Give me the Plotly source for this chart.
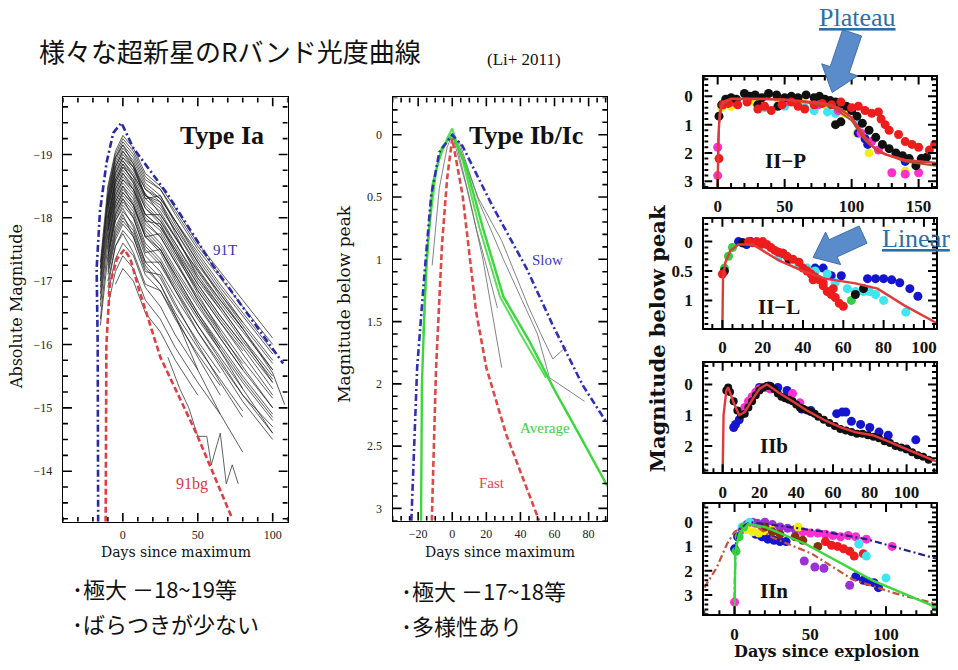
import math
import plotly.graph_objects as go

W, H = 958, 670

# ---------------- DATA ----------------
DAYS_IA = [-15, -10, -5, 0, 7, 15, 25, 35, 50, 65, 80, 100]
IA_CURVES = [
    [-17.3, -18.5, -19.05, -19.3, -19.1, -18.7, -18.5, -18.15, -17.6, -17.15, -16.7, -16.1],
    [-17.2, -18.4, -18.95, -19.2, -19.0, -18.6, -18.45, -18.05, -17.5, -17.05, -16.6, -16.0],
    [None, -18.3, -18.85, -19.1, -18.9, -18.5, -18.3, -17.95, -17.4, -16.9, -16.45, -15.85],
    [-17.0, -18.25, -18.8, -19.05, -18.85, -18.45, -18.25, -17.85, -17.3, -16.8, -16.35, None],
    [None, -18.2, -18.75, -19.0, -18.8, -18.35, -18.2, -17.8, -17.25, -16.8, -16.3, -15.7],
    [-17.0, -18.15, -18.7, -18.95, -18.75, -18.35, -18.15, -17.8, -17.2, -16.7, -16.25, None],
    [None, -18.1, -18.65, -18.9, -18.7, -18.3, -18.1, -17.7, -17.15, -16.65, -16.2, -15.6],
    [-16.9, -18.05, -18.6, -18.85, -18.65, -18.25, -18.0, -17.6, -17.05, -16.55, -16.05, -15.45],
    [None, -18.0, -18.55, -18.8, -18.6, -18.2, -17.95, -17.6, -17.0, -16.55, None, None],
    [-16.8, -17.95, -18.5, -18.75, -18.55, -18.15, -17.95, -17.55, -16.95, -16.45, -16.0, -15.4],
    [None, -17.9, -18.45, -18.7, -18.5, -18.05, -17.85, -17.45, -16.9, -16.4, -15.95, -15.3],
    [-16.7, -17.85, -18.4, -18.65, -18.45, -18.0, -17.8, -17.4, -16.85, -16.35, -15.9, None],
    [None, -17.8, -18.35, -18.6, -18.4, -17.95, -17.7, -17.3, -16.75, -16.25, -15.75, -15.15],
    [-16.6, -17.75, -18.3, -18.55, -18.35, -17.9, -17.7, -17.3, -16.7, -16.2, None, None],
    [None, -17.7, -18.25, -18.5, -18.3, -17.85, -17.6, -17.2, -16.65, -16.1, -15.6, -15.0],
    [None, -17.65, -18.2, -18.45, -18.25, -17.8, -17.55, -17.15, -16.6, -16.1, -15.6, None],
    [-16.4, -17.6, -18.15, -18.4, -18.2, -17.7, -17.5, -17.1, -16.5, -16.0, -15.5, -14.9],
    [None, -17.55, -18.1, -18.35, -18.15, -17.7, -17.45, -17.0, -16.45, -15.95, None, None],
    [None, -17.5, -18.05, -18.3, -18.1, -17.6, -17.35, -16.95, -16.4, -15.9, -15.4, -14.8],
    [-16.3, -17.4, -17.95, -18.2, -18.0, -17.5, -17.25, -16.85, -16.3, -15.8, -15.3, None],
    [None, -17.3, -17.85, -18.1, -17.9, -17.4, -17.15, -16.75, -16.2, -15.7, -15.2, -14.6],
    [None, -17.2, -17.75, -18.0, -17.8, -17.3, -17.05, -16.6, -16.05, -15.55, None, None],
    [None, -17.1, -17.65, -17.9, -17.7, -17.2, -16.95, -16.5, -15.95, -15.45, -14.95, None],
    [None, -17.0, -17.55, -17.8, -17.6, -17.1, -16.85, -16.4, -15.85, -15.35, None, None],
    [None, -16.8, -17.35, -17.6, -17.4, -16.9, -16.6, -16.15, -15.6, None, None, None],
    [None, -16.6, -17.15, -17.4, -17.2, -16.7, -16.4, -15.95, -15.4, -14.9, None, None],
    [None, None, -16.95, -17.2, -17.0, -16.5, -16.2, -15.75, -15.2, None, None, None],
    [-17.1, -18.35, -18.9, -19.15, -18.95, -18.55, -18.35, -17.9, -17.3, -16.75, -16.25, -15.6],
    [None, -18.15, -18.7, -18.95, -18.8, -18.45, -18.3, -17.95, -17.45, -16.95, -16.5, -15.9],
    [None, -18.0, -18.55, -18.8, -18.6, -18.15, -17.9, -17.45, -16.8, -16.2, -15.65, -15.0],
    [None, -17.8, -18.35, -18.6, -18.45, -18.05, -17.85, -17.5, -16.95, -16.45, -16.0, None],
    [None, None, -18.15, -18.4, -18.2, -17.75, -17.5, -17.05, -16.45, -15.9, -15.3, -14.6],
    [None, -18.45, -19.0, -19.25, -19.05, -18.65, -18.45, -18.1, -17.55, -17.1, None, None],
    [None, -17.15, -17.7, -17.95, -17.75, -17.25, -16.95, -16.45, -15.6, -14.9, -14.3, None],
    [None, -17.45, -18.0, -18.25, -18.05, -17.55, -17.3, -16.85, -16.2, -15.65, -15.1, -14.5],
    [-17.2, -18.3, -18.95, -19.15, -18.85, -18.35, -18.25, -17.75, -17.05, -16.6, -16.1, -15.4],
    [None, -18.2, -18.8, -19.05, -18.8, -18.3, -18.35, -17.95, -17.35, -16.85, -16.35, -15.75],
    [None, -17.95, -18.6, -18.85, -18.55, -18.05, -18.05, -17.7, -17.1, -16.6, -16.1, -15.5],
    [None, -17.85, -18.45, -18.7, -18.45, -17.95, -17.9, -17.5, -16.85, -16.35, -15.85, -15.2],
    [None, -17.6, -18.25, -18.5, -18.2, -17.7, -17.75, -17.35, -16.7, -16.15, -15.7, None],
    [None, -17.4, -18.05, -18.3, -18.0, -17.45, -17.5, -17.1, -16.5, -15.95, -15.45, -14.85],
    [None, -17.35, -17.95, -18.15, -17.85, -17.3, -17.3, -16.9, -16.3, -15.75, -15.2, -14.7],
    [None, -17.25, -17.8, -18.05, -17.7, -17.15, -17.1, -16.65, -16.0, -15.4, -14.85, None],
    [None, -16.9, -17.55, -17.75, -17.45, -16.95, -16.85, -16.45, -15.8, -15.2, None, None],
]
IA_LONG_X = [0, 10, 25, 40, 60, 80, 100, 108]
IA_LONG_Y = [-18.9, -18.55, -18.05, -17.5, -16.85, -16.25, -15.55, -15.05]
IA_NOISY_X = [30, 38, 44, 50, 56, 59, 65, 69, 73, 77]
IA_NOISY_Y = [-15.8, -15.3, -15.0, -14.55, -14.55, -14.1, -14.6, -13.8, -14.1, -13.8]
IA_91T_X = [-16.5, -16.8, -17.5, -15.3, -10.9, -6.4, -1, 7, 29, 60, 107]
IA_91T_Y = [-13.2, -16.0, -17.2, -18.1, -18.87, -19.34, -19.5, -19.1, -18.4, -17.25, -15.7]
IA_91BG_X = [-11.5, -11.0, -8.7, -4, 1, 5, 11, 25, 49, 73]
IA_91BG_Y = [-13.2, -16.0, -16.95, -17.35, -17.5, -17.35, -16.85, -15.8, -14.6, -13.25]

IB_SLOW_X = [-24, -20.6, -16.5, -12.4, -7.6, 0, 6, 23.5, 43.5, 59, 76.5, 91]
IB_SLOW_Y = [3.1, 1.87, 1.15, 0.49, 0.14, 0.0, 0.09, 0.57, 1.07, 1.53, 2.01, 2.32]
IB_AVG1_X = [-18.3, -17.8, -15.5, -11.5, -6, 0, 8, 18, 30, 45, 60, 75, 91]
IB_AVG1_Y = [3.1, 2.0, 1.1, 0.4, 0.1, 0.0, 0.25, 0.75, 1.3, 1.65, 2.05, 2.42, 2.82]
IB_AVG2_X = [-17.0, -14, -9, -3, 0, 6, 16, 28, 40, 55]
IB_AVG2_Y = [1.6, 0.8, 0.25, 0.03, -0.05, 0.2, 0.75, 1.3, 1.6, 1.95]
IB_FAST_X = [-12, -9.5, -6, -3, 0, 6, 14, 20, 31.5, 51]
IB_FAST_Y = [3.1, 1.87, 0.88, 0.35, 0.03, 0.48, 1.42, 1.87, 2.4, 3.1]
IB_GRAY = [
    ([0, 8, 14, 20, 26.5], [0.0, 0.4, 0.75, 1.05, 1.39]),
    ([2, 10, 18, 29], [0.05, 0.5, 1.0, 1.87]),
    ([3, 15, 29, 37, 45, 52, 59, 67], [0.05, 0.5, 0.85, 1.12, 1.39, 1.6, 1.8, 1.7]),
    ([4, 16, 30, 40, 50, 57, 77.6], [0.05, 0.55, 1.0, 1.3, 1.6, 1.95, 2.14]),
    ([-11.8, -7.6, -3, 0], [1.05, 0.43, 0.1, 0.0]),
]

IIP_LINE_X = [0, 0.5, 1.5, 4, 10, 30, 60, 80, 90, 100, 108, 115, 125, 140, 163]
IIP_LINE_Y = [3.2, 1.5, 0.6, 0.2, 0.08, 0.08, 0.15, 0.25, 0.4, 0.75, 1.3, 1.75, 2.05, 2.25, 2.35]
IIP_LINE2_X = [0, 1, 3, 10, 50, 85, 100, 110, 120, 140, 163]
IIP_LINE2_Y = [3.2, 1.0, 0.3, 0.1, 0.1, 0.35, 0.85, 1.55, 1.95, 2.3, 2.45]
IIP_BLACK_X = [1, 3, 6, 10, 14, 20, 24, 28, 33, 38, 44, 50, 55, 60, 66, 72, 76, 80, 84, 88, 92,
               96, 100, 104, 108, 113, 118, 123, 128, 133, 138, 143, 148, 152, 156, 30, 45, 88, 92]
IIP_BLACK_Y = [0.7, 0.3, 0.1, 0.05, 0.1, -0.1, 0.0, -0.05, 0.05, -0.1, -0.05, 0.05, 0.0, 0.05, -0.05,
               0.05, 0.0, 0.1, 0.15, 0.2, 0.25, 0.35, 0.5, 0.7, 0.95, 1.2, 1.45, 1.7, 1.85, 2.0, 2.1,
               2.2, 2.45, 2.2, 2.15, 0.3, 0.35, 1.0, 0.9]
IIP_RED_X = [1, 4, 8, 15, 22, 30, 35, 40, 48, 55, 60, 65, 72, 78, 85, 92, 100, 105, 110, 115,
             120, 122, 125, 128, 135, 140, 145, 150, 158, 162]
IIP_RED_Y = [2.2, 0.3, 0.25, 0.3, 0.2, 0.45, 0.35, 0.5, 0.3, 0.2, 0.35, 0.45, 0.3, 0.25, 0.3, 0.2,
             0.4, 0.35, 0.5, 0.6, 0.55, 0.8, 1.0, 1.2, 1.35, 1.6, 1.7, 1.8, 1.9, 1.7]
IIP_YELLOW_X = [3, 10, 28, 45, 62, 80, 95, 104, 113, 140]
IIP_YELLOW_Y = [0.4, 0.35, 0.2, 0.1, 0.15, 0.3, 0.6, 1.3, 2.0, 2.65]
IIP_CYAN_X = [35, 50, 65, 72, 82, 88, 105]
IIP_CYAN_Y = [0.4, 0.35, 0.4, 0.5, 0.55, 0.6, 1.0]
IIP_MAGENTA_X = [0, 0, 12, 50, 75, 90, 107, 115, 120, 130, 140, 150]
IIP_MAGENTA_Y = [1.8, 2.8, 0.2, 0.2, 0.3, 0.5, 1.3, 1.6, 1.9, 2.7, 2.75, 2.7]
IIP_BLUE_X = [105, 110, 112, 140]
IIP_BLUE_Y = [1.3, 1.5, 1.7, 2.3]

IIL_LINE_X = [0, 0.3, 1.5, 4, 8, 15, 28, 40, 51, 66, 77, 90, 106]
IIL_LINE_Y = [1.47, 0.6, 0.35, 0.15, 0.05, 0.05, 0.32, 0.5, 0.63, 0.71, 0.8, 1.08, 1.38]
IIL_BLUE_X = [8, 10, 12, 14, 46, 50, 54, 59, 72, 76, 80, 84, 88, 93, 97]
IIL_BLUE_Y = [0.0, 0.02, 0.05, 0.0, 0.45, 0.45, 0.58, 0.58, 0.63, 0.63, 0.63, 0.65, 0.7, 0.8, 0.93]
IIL_RED_X = [0, 13, 15, 17, 19, 20, 22, 24, 26, 28, 30, 32, 35, 38, 40, 42, 44, 46, 48, 50, 52,
             54, 56, 58, 60, 45, 50, 55]
IIL_RED_Y = [0.55, 0.0, 0.02, 0.0, 0.05, 0.0, 0.05, 0.1, 0.15, 0.18, 0.2, 0.25, 0.3, 0.35, 0.45,
             0.5, 0.55, 0.6, 0.65, 0.75, 0.85, 0.9, 0.95, 1.05, 1.1, 0.65, 0.7, 0.8]
IIL_CYAN_X = [28, 33, 38, 42, 46, 52, 56, 62, 66, 70, 73, 76, 80, 91]
IIL_CYAN_Y = [0.25, 0.3, 0.4, 0.45, 0.5, 0.55, 0.7, 0.8, 0.85, 0.85, 0.85, 0.9, 1.0, 1.2]
IIL_GREEN_X = [1, 3, 5, 64]
IIL_GREEN_Y = [0.45, 0.25, 0.1, 1.0]
IIL_BLACK_X = [1, 10, 30, 33, 66, 70]
IIL_BLACK_Y = [0.5, 0.02, 0.2, 0.3, 0.9, 0.8]

IIB_LINE_X = [0, 0.5, 2, 3, 6, 9, 12, 16, 20, 24, 30, 38, 45.6, 55, 63.5, 72, 81.6, 90, 100, 116]
IIB_LINE_Y = [2.85, 1.0, 0.2, 0.1, 0.6, 1.0, 0.9, 0.5, 0.15, 0.0, 0.25, 0.55, 0.84, 1.15, 1.38,
              1.55, 1.65, 1.85, 2.1, 2.5]
IIB_BLACK_X = [2, 3, 4, 6, 8, 10, 12, 14, 16, 18, 20, 22, 24, 26, 28, 30, 32, 34, 36, 38, 40, 42,
               44, 46, 48, 50, 52, 55, 58, 61, 64, 67, 70, 73, 76, 79, 82, 85, 88, 91, 94, 97,
               100, 103, 106, 109, 112]
IIB_BLACK_Y = [0.2, 0.1, 0.25, 0.55, 0.85, 1.0, 0.95, 0.75, 0.55, 0.35, 0.2, 0.1, 0.05, 0.05, 0.15,
               0.3, 0.4, 0.45, 0.5, 0.55, 0.65, 0.75, 0.8, 0.85, 0.9, 0.95, 1.05, 1.15, 1.25, 1.35,
               1.45, 1.5, 1.55, 1.6, 1.6, 1.65, 1.7, 1.75, 1.85, 1.9, 2.0, 2.05, 2.1, 2.2, 2.3,
               2.35, 2.45]
IIB_BLUE_X = [6, 7, 9, 20, 25, 30, 35, 43, 48, 62, 65, 67, 70, 75, 80, 85, 90, 100, 105]
IIB_BLUE_Y = [1.4, 1.3, 1.15, 0.1, 0.05, 0.1, 0.2, 0.8, 0.85, 0.95, 0.9, 0.9, 1.2, 1.3, 1.4, 1.55,
              1.65, 2.1, 1.8]
IIB_MAGENTA_X = [10, 12, 14, 16, 18, 20, 22, 24, 26, 38, 42]
IIB_MAGENTA_Y = [0.9, 0.75, 0.55, 0.4, 0.25, 0.15, 0.1, 0.1, 0.15, 0.3, 0.6]

IIN_RED_X = [-20, -12, -5, 0, 8, 15, 24.5, 51, 77.5, 104, 133]
IIN_RED_Y = [2.7, 1.9, 0.9, 0.4, 0.1, 0.2, 0.62, 1.3, 2.35, 2.9, 3.37]
IIN_BLUE_X = [0, 0.5, 3, 10, 30, 60, 87, 133]
IIN_BLUE_Y = [3.8, 1.0, 0.3, 0.0, 0.15, 0.4, 0.7, 1.5]
IIN_GREEN_X = [0, 0.5, 3, 9, 20, 47, 91, 133]
IIN_GREEN_Y = [3.8, 1.2, 0.5, 0.08, 0.2, 0.9, 2.4, 3.5]
IIN_PTS = {
    "#ff2fd0": ([0, 45, 50, 55, 60, 65, 70, 75, 80, 87, 104],
                [3.3, 0.4, 0.45, 0.45, 0.5, 0.55, 0.6, 0.55, 0.6, 0.7, 1.0]),
    "#9a32d8": ([5, 8, 12, 15, 20, 25, 30, 35, 40, 46, 53, 59, 76],
                [0.3, 0.1, 0.0, 0.05, 0.0, 0.1, 0.2, 0.25, 0.3, 1.6, 1.85, 1.9, 2.6]),
    "#1515d0": ([0, 2, 14, 18, 22, 26, 30, 34, 80, 85, 88, 92, 95],
                [1.1, 0.6, 0.5, 0.6, 0.7, 0.75, 0.8, 0.8, 2.25, 2.4, 2.45, 2.5, 2.7]),
    "#ee1c1c": ([60, 64, 68, 72, 76, 79, 85], [0.8, 0.95, 1.0, 1.1, 1.2, 1.4, 1.3]),
    "#3ee6ee": ([5, 10, 82, 87, 100], [0.2, 0.0, 0.9, 1.4, 2.3]),
    "#f2ee10": ([8, 12, 16, 20, 24, 42], [0.3, 0.4, 0.45, 0.35, 0.3, 0.2]),
    "#8a3010": ([20, 25, 30, 40, 45, 55], [0.2, 0.4, 0.5, 0.6, 0.75, 1.0]),
    "#30d040": ([1, 3, 6, 133], [1.2, 0.6, 0.2, 3.5]),
}


# ---------------- HELPERS ----------------
def px(x):
    return x / W


def py(y):
    return 1 - y / H


fig = go.Figure()

PANELS = [
    dict(box=(63, 288, 98, 525), xr=[-40, 110], yr=[-13.2, -19.9], xd=50, xm=10, yd=1, ym=0.25, big=False),
    dict(box=(393, 608, 98, 524), xr=[-35, 91], yr=[3.1, -0.3], xd=20, xm=5, yd=0.5, ym=0.1, big=False),
    dict(box=(705, 937, 77, 188), xr=[-10, 163], yr=[3.2, -0.7], xd=50, xm=10, yd=1, ym=0.2, big=True),
    dict(box=(705, 937, 220, 330), xr=[-9, 106], yr=[1.47, -0.39], xd=20, xm=5, yd=0.5, ym=0.1, big=True),
    dict(box=(705, 937, 365, 475), xr=[-10, 116], yr=[2.85, -0.7], xd=20, xm=5, yd=1, ym=0.2, big=True),
    dict(box=(705, 937, 507, 618), xr=[-20, 133], yr=[3.8, -0.75], xd=50, xm=10, yd=1, ym=0.2, big=True),
]


def ax(i):
    return ("x" if i == 1 else "x%d" % i), ("y" if i == 1 else "y%d" % i)


def line(i, xs, ys, color, width=1.5, dash="solid", clip=True):
    xa, ya = ax(i)
    fig.add_trace(go.Scatter(x=xs, y=ys, mode="lines", xaxis=xa, yaxis=ya,
                             line=dict(color=color, width=width, dash=dash, simplify=False),
                             showlegend=False, hoverinfo="skip", cliponaxis=clip))


def dots(i, xs, ys, color, size=9):
    xa, ya = ax(i)
    fig.add_trace(go.Scatter(x=xs, y=ys, mode="markers", xaxis=xa, yaxis=ya,
                             marker=dict(color=color, size=size, line=dict(width=0)),
                             showlegend=False, hoverinfo="skip"))


def tick_values(lo, hi, step):
    a, b = min(lo, hi), max(lo, hi)
    k0, k1 = math.ceil(a / step - 1e-9), math.floor(b / step + 1e-9)
    return [round(k * step, 6) for k in range(k0, k1 + 1)]


def is_major(v, d):
    q = v / d
    return abs(q - round(q)) < 1e-6


layout_axes = {}
for i, p in enumerate(PANELS, start=1):
    l, r, t, b = p["box"]
    sfx = "" if i == 1 else str(i)
    if p["big"]:
        tf = dict(family="Liberation Serif", size=17, color="#111", weight="bold")
        lw, sx, sy = 2, 3, 6
    else:
        tf = dict(family="Liberation Serif", size=12, color="#222")
        lw, sx, sy = 1.4, 2, 7
    for letter, dom, rng, dt, anc, st in (("x", [px(l), px(r)], p["xr"], p["xd"], "y", sx),
                                          ("y", [py(b), py(t)], p["yr"], p["yd"], "x", sy)):
        layout_axes[letter + "axis" + sfx] = dict(
            domain=dom, range=rng, anchor=anc + sfx, showgrid=False, zeroline=False,
            showline=True, linecolor="black", linewidth=lw, mirror=True, ticks="",
            tickmode="linear", tick0=0, dtick=dt, tickfont=tf, ticklabelstandoff=st,
            layer="above traces")


def add_inward_ticks(i, p):
    """Tick marks on all four sides pointing into the frame, placed at axis values."""
    l, r, t, b = p["box"]
    x0r, x1r = p["xr"]
    y0r, y1r = p["yr"]
    kx = (x1r - x0r) / (r - l)
    ky = (y1r - y0r) / (b - t)
    tl, ml, tw = (8, 4, 2.0) if p["big"] else (9, 5, 1.6)
    xs, ys = [], []
    for v in tick_values(x0r, x1r, p["xm"]):
        L = tl if is_major(v, p["xd"]) else ml
        xs += [v, v, None, v, v, None]
        ys += [y0r, y0r + L * ky, None, y1r, y1r - L * ky, None]
    for v in tick_values(y0r, y1r, p["ym"]):
        L = tl if is_major(v, p["yd"]) else ml
        xs += [x0r, x0r + L * kx, None, x1r, x1r - L * kx, None]
        ys += [v, v, None, v, v, None]
    line(i, xs, ys, "#000000", width=tw, clip=False)


# ---- Panel 1: Type Ia ----
for c in IA_CURVES:
    line(1, DAYS_IA, c, "rgba(25,25,25,0.7)", width=1.0)
line(1, IA_LONG_X, IA_LONG_Y, "rgba(40,40,40,0.8)", width=1.0)
line(1, IA_NOISY_X, IA_NOISY_Y, "rgba(60,60,60,0.8)", width=1.0)
line(1, IA_91T_X, IA_91T_Y, "#2a2aa8", width=2.6, dash="7px,3px,2px,3px")
line(1, IA_91BG_X, IA_91BG_Y, "#e03c44", width=2.6, dash="6px,3px")

# ---- Panel 2: Type Ib/Ic ----
for gx, gy in IB_GRAY:
    line(2, gx, gy, "rgba(110,110,110,0.85)", width=1.0)
line(2, IB_AVG2_X, IB_AVG2_Y, "#55e055", width=2.0)
line(2, IB_AVG1_X, IB_AVG1_Y, "#3ad83a", width=2.4)
line(2, IB_SLOW_X, IB_SLOW_Y, "#3030b8", width=2.6, dash="7px,3px,2px,3px")
line(2, IB_FAST_X, IB_FAST_Y, "#e04848", width=2.6, dash="6px,3px")

# ---- Panel 3: II-P ----
dots(3, IIP_YELLOW_X, IIP_YELLOW_Y, "#f2ee10")
dots(3, IIP_CYAN_X, IIP_CYAN_Y, "#3ee6ee")
dots(3, IIP_BLUE_X, IIP_BLUE_Y, "#1515d0")
dots(3, IIP_MAGENTA_X, IIP_MAGENTA_Y, "#ff2fd0")
dots(3, IIP_BLACK_X, IIP_BLACK_Y, "#101010")
dots(3, IIP_RED_X, IIP_RED_Y, "#ee1c1c")
line(3, IIP_LINE2_X, IIP_LINE2_Y, "#b0502a", width=2.0)
line(3, IIP_LINE_X, IIP_LINE_Y, "#e23a3a", width=2.4)

# ---- Panel 4: II-L ----
dots(4, IIL_BLUE_X, IIL_BLUE_Y, "#1515d0")
dots(4, IIL_CYAN_X, IIL_CYAN_Y, "#3ee6ee")
dots(4, IIL_GREEN_X, IIL_GREEN_Y, "#30d040")
dots(4, IIL_BLACK_X, IIL_BLACK_Y, "#101010")
dots(4, IIL_RED_X, IIL_RED_Y, "#ee1c1c")
line(4, IIL_LINE_X, IIL_LINE_Y, "#e23a3a", width=2.4)

# ---- Panel 5: IIb ----
dots(5, IIB_BLUE_X, IIB_BLUE_Y, "#1515d0")
dots(5, IIB_MAGENTA_X, IIB_MAGENTA_Y, "#ff2fd0")
dots(5, IIB_BLACK_X, IIB_BLACK_Y, "#101010", size=8)
line(5, IIB_LINE_X, IIB_LINE_Y, "#e23a3a", width=2.4)

# ---- Panel 6: IIn ----
for col, (xs_, ys_) in IIN_PTS.items():
    dots(6, xs_, ys_, col)
line(6, IIN_RED_X, IIN_RED_Y, "#c8503a", width=2.2, dash="7px,3px,2px,3px")
line(6, IIN_BLUE_X, IIN_BLUE_Y, "#22228a", width=2.2, dash="7px,3px,2px,3px")
line(6, IIN_GREEN_X, IIN_GREEN_Y, "#3ad83a", width=2.4)

for i, p in enumerate(PANELS, start=1):
    add_inward_ticks(i, p)

# ---------------- TEXT ----------------
ann = []


def text(x, y, s, size, color="#111", family="Liberation Serif", weight="normal",
         xanchor="center", angle=0, under=False):
    f = dict(size=size, color=color, family=family, weight=weight)
    if under:
        f["lineposition"] = "under"
    ann.append(dict(x=px(x), y=py(y), xref="paper", yref="paper", text=s, showarrow=False,
                    xanchor=xanchor, yanchor="middle", textangle=angle, font=f))


CJK = "Noto Sans CJK JP"
text(37, 51, "様々な超新星のRバンド光度曲線", 26, family=CJK, xanchor="left")
text(525, 60, "(Li+ 2011)", 17)

text(222, 136, "<b>Type Ia</b>", 26)
text(527, 136, "<b>Type Ib/Ic</b>", 26)
text(225, 252, "91T", 15, color="#3434b4")
text(192, 487, "91bg", 16, color="#d93a40")
text(548, 262, "Slow", 15, color="#3a3ac0")
text(546, 431, "Average", 15, color="#3ed03e")
text(493, 486, "Fast", 15, color="#e04848")

text(16, 308, "Absolute Magnitude", 16, family="DejaVu Serif", angle=-90)
text(345, 306, "Magnitude below peak", 17, family="DejaVu Serif", angle=-90)
text(176, 555, "Days since maximum", 14, family="DejaVu Serif")
text(501, 555, "Days since maximum", 14, family="DejaVu Serif")

text(786, 162, "II−P", 21, weight="bold")
text(780, 309, "II−L", 21, weight="bold")
text(775, 449, "IIb", 21, weight="bold")
text(775, 595, "IIn", 21, weight="bold")
text(659, 341, "Magnitude below peak", 21, family="DejaVu Serif", weight="bold", angle=-90)
text(828, 655, "Days since explosion", 16, family="DejaVu Serif", weight="bold")

text(858, 18, "Plateau", 26, color="#2c6ea8", under=True)
text(917, 240, "Linear", 26, color="#2c6ea8", under=True)

text(70, 592, "･極大 －18~19等", 22, family=CJK, xanchor="left")
text(70, 627, "･ばらつきが少ない", 22, family=CJK, xanchor="left")
text(399, 594, "･極大 －17~18等", 22, family=CJK, xanchor="left")
text(399, 629, "･多様性あり", 22, family=CJK, xanchor="left")


def block_arrow(tail, tip, w, hw, hl):
    (tx, ty), (hx, hy) = tail, tip
    dx, dy = hx - tx, hy - ty
    n = (dx * dx + dy * dy) ** 0.5
    ux, uy = dx / n, dy / n
    nx, ny = -uy, ux
    bx, by = hx - ux * hl, hy - uy * hl
    pts = [(tx + nx * w / 2, ty + ny * w / 2), (bx + nx * w / 2, by + ny * w / 2),
           (bx + nx * hw / 2, by + ny * hw / 2), (hx, hy),
           (bx - nx * hw / 2, by - ny * hw / 2), (bx - nx * w / 2, by - ny * w / 2),
           (tx - nx * w / 2, ty - ny * w / 2)]
    path = "M " + " L ".join("%.5f,%.5f" % (px(a), py(b)) for a, b in pts) + " Z"
    return dict(type="path", path=path, xref="paper", yref="paper", layer="above",
                fillcolor="#5a8ccb", line=dict(color="#3f6fa8", width=1))


shapes = [block_arrow((853, 33), (833, 93), 20, 38, 24),
          block_arrow((864, 236), (814, 259), 19, 36, 22)]

fig.update_layout(width=W, height=H, margin=dict(l=0, r=0, t=0, b=0),
                  paper_bgcolor="white", plot_bgcolor="rgba(0,0,0,0)",
                  annotations=ann, shapes=shapes, showlegend=False, **layout_axes)

fig.write_html("out.html")
